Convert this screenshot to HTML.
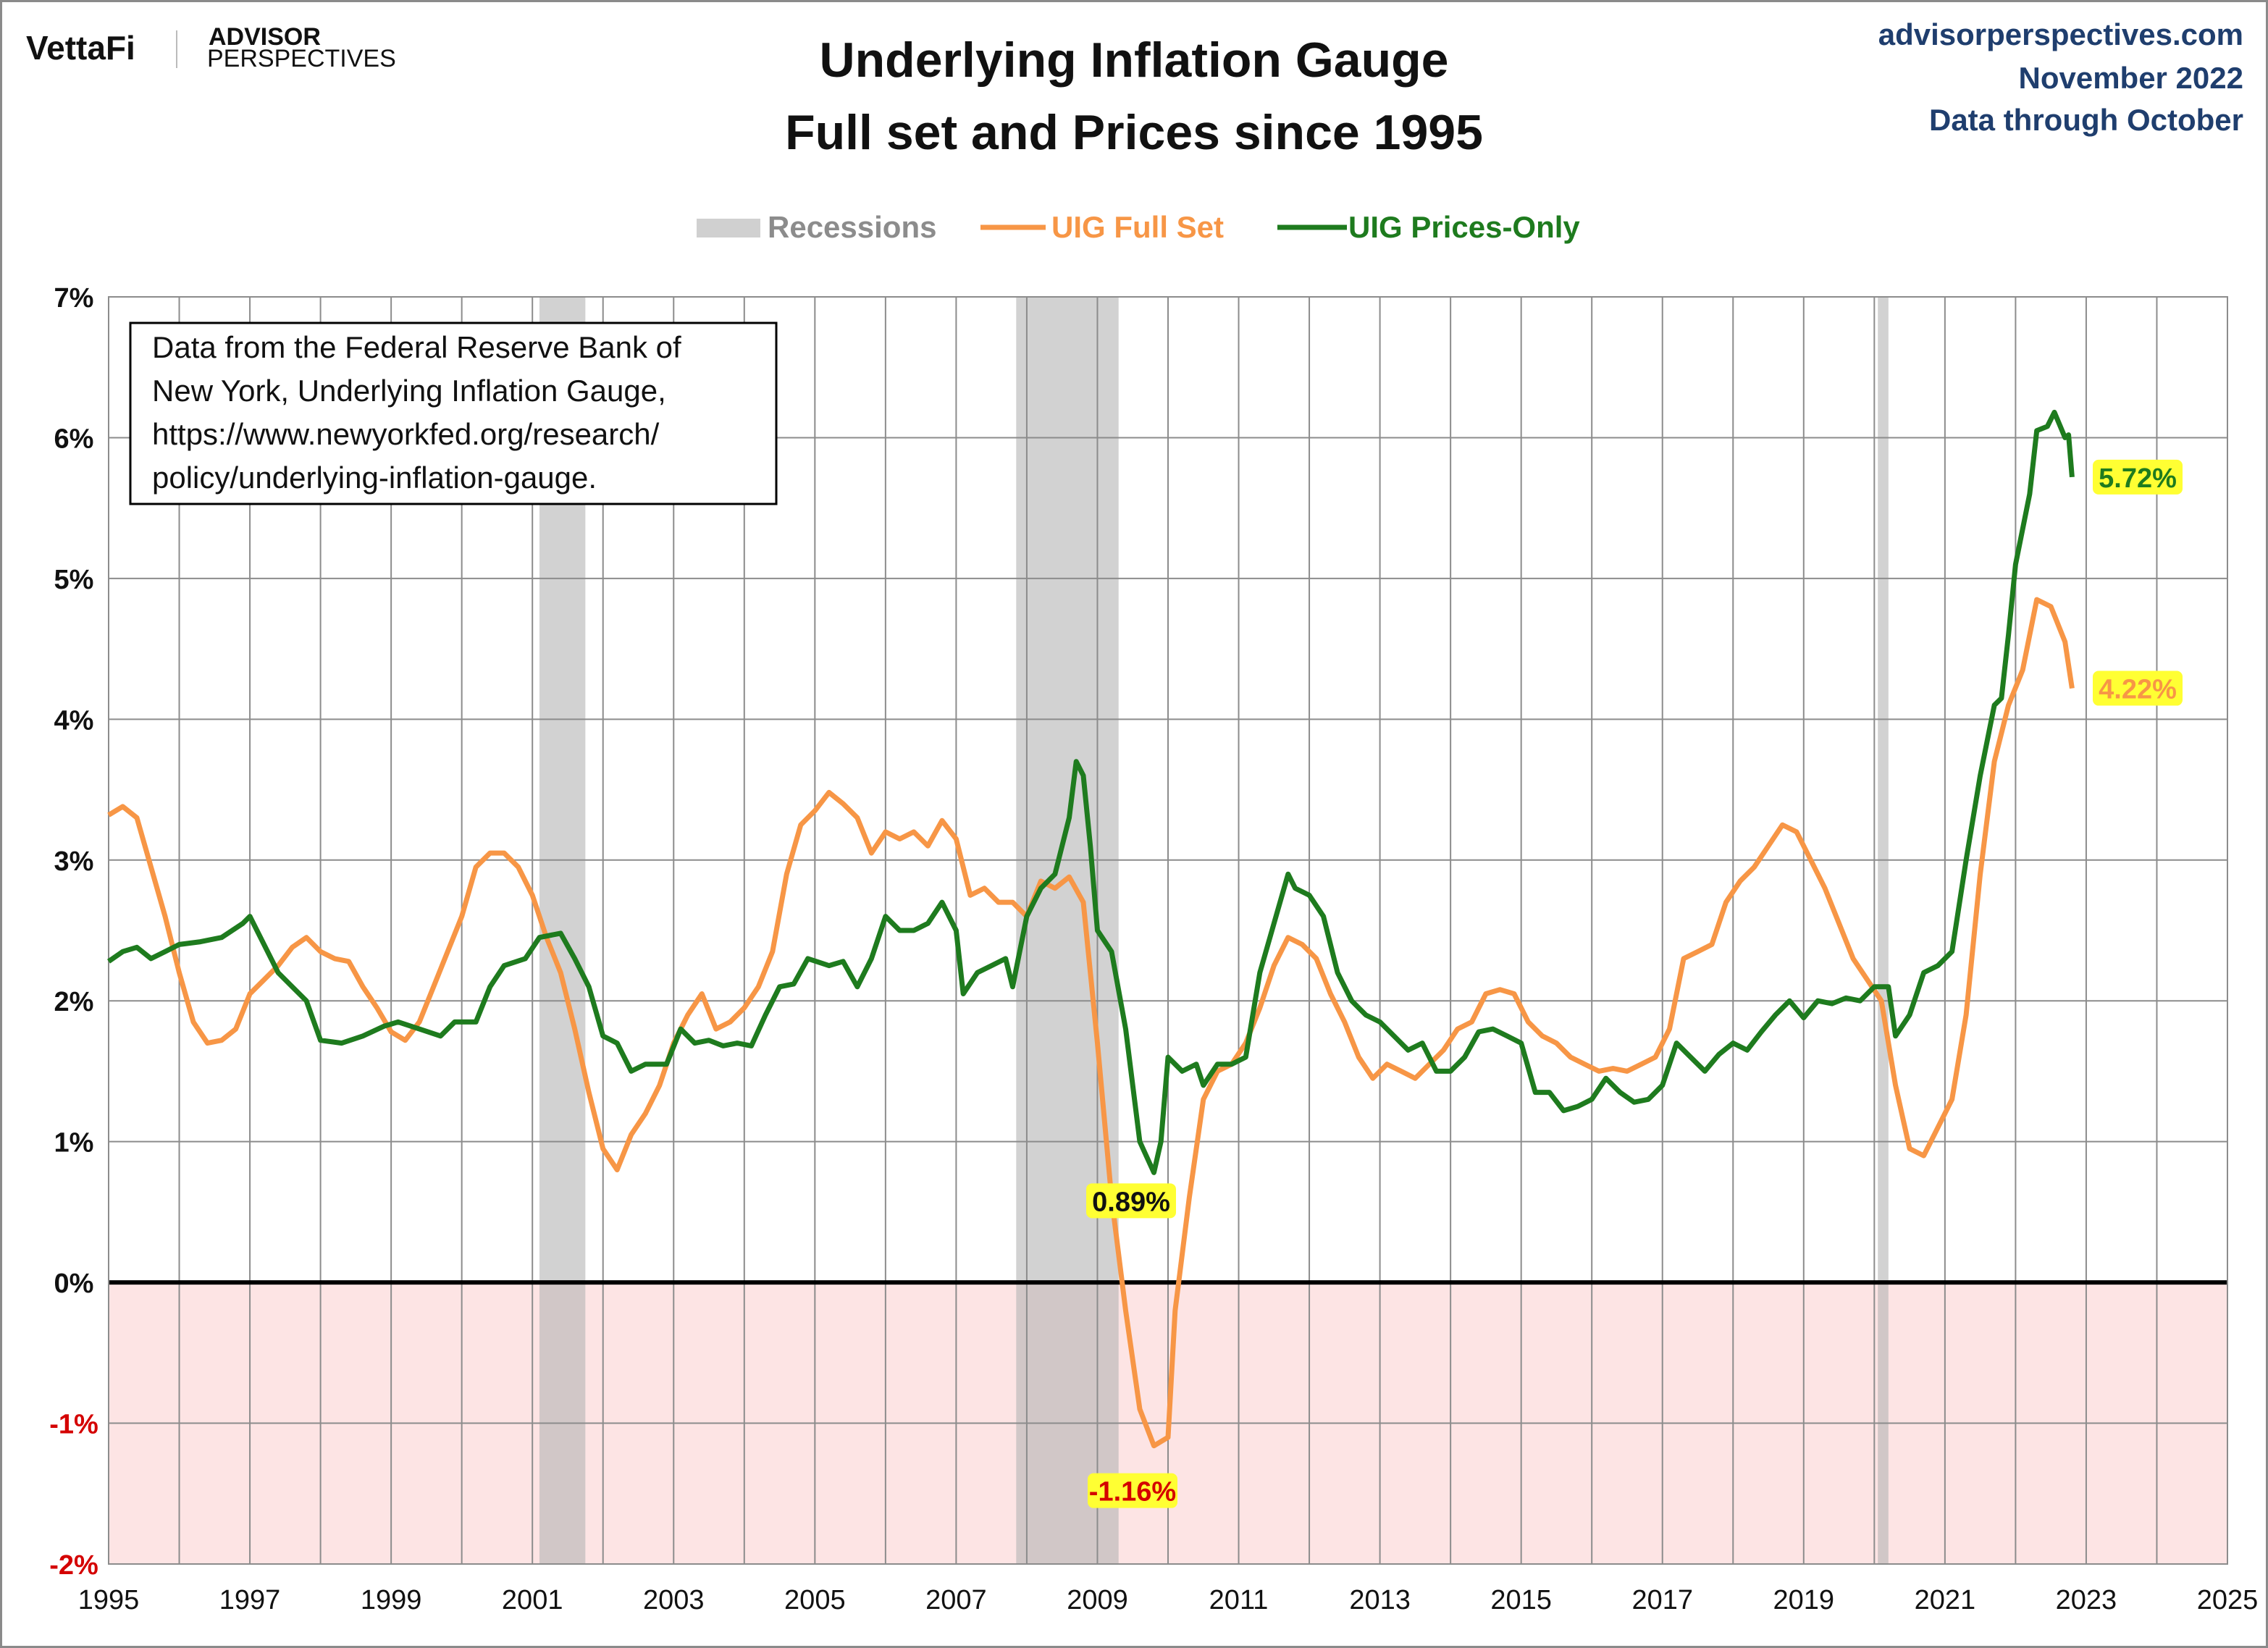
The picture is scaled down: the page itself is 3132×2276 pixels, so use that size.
<!DOCTYPE html>
<html><head><meta charset="utf-8">
<style>
html,body{margin:0;padding:0;background:#fff;}
svg{display:block;font-family:"Liberation Sans",Arial,sans-serif;}
</style></head>
<body>
<svg id="chart" width="3132" height="2276" viewBox="0 0 3132 2276" xmlns="http://www.w3.org/2000/svg">
<rect x="1.5" y="1.5" width="3129" height="2273" fill="#fff" stroke="#8a8a8a" stroke-width="3"/>
<g>
<text x="36" y="82" font-size="46" font-weight="bold" fill="#111">VettaFi</text>
<line x1="244" y1="42" x2="244" y2="94" stroke="#bbb" stroke-width="2"/>
<text x="288" y="62" font-size="34" font-weight="bold" fill="#111">ADVISOR</text>
<text x="286" y="92" font-size="34" fill="#111">PERSPECTIVES</text>
</g>
<text x="1566" y="106" font-size="68" font-weight="bold" text-anchor="middle" fill="#111">Underlying Inflation Gauge</text>
<text x="1566" y="206" font-size="68" font-weight="bold" text-anchor="middle" fill="#111">Full set and Prices since 1995</text>
<g font-size="42" font-weight="bold" fill="#1f3e6e" text-anchor="end">
<text x="3098" y="62">advisorperspectives.com</text>
<text x="3098" y="122">November 2022</text>
<text x="3098" y="180">Data through October</text>
</g>
<g>
<rect x="962" y="302" width="88" height="26" fill="#d0d0d0"/>
<text x="1060" y="328" font-size="42" font-weight="bold" fill="#8c8c8c">Recessions</text>
<line x1="1354" y1="314" x2="1444" y2="314" stroke="#f79646" stroke-width="7"/>
<text x="1452" y="328" font-size="42" font-weight="bold" fill="#f79646">UIG Full Set</text>
<line x1="1764" y1="314" x2="1860" y2="314" stroke="#1e7b1e" stroke-width="7"/>
<text x="1862" y="328" font-size="42" font-weight="bold" fill="#1e7b1e">UIG Prices-Only</text>
</g>
<g id="plot"></g>
<g>
<rect x="180" y="446" width="892" height="250" fill="#fff" stroke="#000" stroke-width="3"/>
<g font-size="42" fill="#111">
<text x="210" y="494">Data from the Federal Reserve Bank of</text>
<text x="210" y="554">New York, Underlying Inflation Gauge,</text>
<text x="210" y="614">https://www.newyorkfed.org/research/</text>
<text x="210" y="674">policy/underlying-inflation-gauge.</text>
</g>
</g>
</svg>
<script>
const fullYears=[1995.0,1995.2,1995.4,1995.6,1995.8,1996.0,1996.2,1996.4,1996.6,1996.8,1997.0,1997.2,1997.4,1997.6,1997.8,1998.0,1998.2,1998.4,1998.6,1998.8,1999.0,1999.2,1999.4,1999.6,1999.8,2000.0,2000.2,2000.4,2000.6,2000.8,2001.0,2001.2,2001.4,2001.6,2001.8,2002.0,2002.2,2002.4,2002.6,2002.8,2003.0,2003.2,2003.4,2003.6,2003.8,2004.0,2004.2,2004.4,2004.6,2004.8,2005.0,2005.2,2005.4,2005.6,2005.8,2006.0,2006.2,2006.4,2006.6,2006.8,2007.0,2007.2,2007.4,2007.6,2007.8,2008.0,2008.2,2008.4,2008.6,2008.8,2009.0,2009.2,2009.4,2009.6,2009.8,2010.0,2010.1,2010.3,2010.5,2010.7,2010.9,2011.1,2011.3,2011.5,2011.7,2011.9,2012.1,2012.3,2012.5,2012.7,2012.9,2013.1,2013.3,2013.5,2013.7,2013.9,2014.1,2014.3,2014.5,2014.7,2014.9,2015.1,2015.3,2015.5,2015.7,2015.9,2016.1,2016.3,2016.5,2016.7,2016.9,2017.1,2017.3,2017.5,2017.7,2017.9,2018.1,2018.3,2018.5,2018.7,2018.9,2019.1,2019.3,2019.5,2019.7,2019.9,2020.1,2020.3,2020.5,2020.7,2020.9,2021.1,2021.3,2021.5,2021.7,2021.9,2022.1,2022.3,2022.5,2022.7,2022.8];
const fullValues=[3.32,3.38,3.3,2.95,2.6,2.2,1.85,1.7,1.72,1.8,2.05,2.15,2.25,2.38,2.45,2.35,2.3,2.28,2.1,1.95,1.78,1.72,1.85,2.1,2.35,2.6,2.95,3.05,3.05,2.95,2.75,2.45,2.2,1.8,1.35,0.95,0.8,1.05,1.2,1.4,1.7,1.9,2.05,1.8,1.85,1.95,2.1,2.35,2.9,3.25,3.35,3.48,3.4,3.3,3.05,3.2,3.15,3.2,3.1,3.28,3.15,2.75,2.8,2.7,2.7,2.6,2.85,2.8,2.88,2.7,1.7,0.6,-0.2,-0.9,-1.16,-1.1,-0.2,0.6,1.3,1.5,1.55,1.7,1.95,2.25,2.45,2.4,2.3,2.05,1.85,1.6,1.45,1.55,1.5,1.45,1.55,1.65,1.8,1.85,2.05,2.08,2.05,1.85,1.75,1.7,1.6,1.55,1.5,1.52,1.5,1.55,1.6,1.8,2.3,2.35,2.4,2.7,2.85,2.95,3.1,3.25,3.2,3.0,2.8,2.55,2.3,2.15,2.0,1.4,0.95,0.9,1.1,1.3,1.9,2.9,3.7,4.1,4.35,4.85,4.8,4.55,4.22];
const pricesYears=[1995.0,1995.2,1995.4,1995.6,1995.8,1996.0,1996.3,1996.6,1996.9,1997.0,1997.2,1997.4,1997.6,1997.8,1998.0,1998.3,1998.6,1998.9,1999.1,1999.4,1999.7,1999.9,2000.2,2000.4,2000.6,2000.9,2001.1,2001.4,2001.6,2001.8,2002.0,2002.2,2002.4,2002.6,2002.9,2003.1,2003.3,2003.5,2003.7,2003.9,2004.1,2004.3,2004.5,2004.7,2004.9,2005.2,2005.4,2005.6,2005.8,2006.0,2006.2,2006.4,2006.6,2006.8,2007.0,2007.1,2007.3,2007.5,2007.7,2007.8,2008.0,2008.2,2008.4,2008.6,2008.7,2008.8,2008.9,2009.0,2009.2,2009.4,2009.6,2009.8,2009.9,2010.0,2010.2,2010.4,2010.5,2010.7,2010.9,2011.1,2011.3,2011.5,2011.7,2011.8,2012.0,2012.2,2012.4,2012.6,2012.8,2013.0,2013.2,2013.4,2013.6,2013.8,2014.0,2014.2,2014.4,2014.6,2014.8,2015.0,2015.2,2015.4,2015.6,2015.8,2016.0,2016.2,2016.4,2016.6,2016.8,2017.0,2017.2,2017.4,2017.6,2017.8,2018.0,2018.2,2018.4,2018.6,2018.8,2019.0,2019.2,2019.4,2019.6,2019.8,2020.0,2020.2,2020.3,2020.5,2020.7,2020.9,2021.1,2021.3,2021.5,2021.7,2021.8,2021.9,2022.0,2022.2,2022.3,2022.45,2022.55,2022.7,2022.75,2022.8];
const pricesValues=[2.28,2.35,2.38,2.3,2.35,2.4,2.42,2.45,2.55,2.6,2.4,2.2,2.1,2.0,1.72,1.7,1.75,1.82,1.85,1.8,1.75,1.85,1.85,2.1,2.25,2.3,2.45,2.48,2.3,2.1,1.75,1.7,1.5,1.55,1.55,1.8,1.7,1.72,1.68,1.7,1.68,1.9,2.1,2.12,2.3,2.25,2.28,2.1,2.3,2.6,2.5,2.5,2.55,2.7,2.5,2.05,2.2,2.25,2.3,2.1,2.6,2.8,2.9,3.3,3.7,3.6,3.1,2.5,2.35,1.8,1.0,0.78,1.0,1.6,1.5,1.55,1.4,1.55,1.55,1.6,2.2,2.55,2.9,2.8,2.75,2.6,2.2,2.0,1.9,1.85,1.75,1.65,1.7,1.5,1.5,1.6,1.78,1.8,1.75,1.7,1.35,1.35,1.22,1.25,1.3,1.45,1.35,1.28,1.3,1.4,1.7,1.6,1.5,1.62,1.7,1.65,1.78,1.9,2.0,1.88,2.0,1.98,2.02,2.0,2.1,2.1,1.75,1.9,2.2,2.25,2.35,3.0,3.6,4.1,4.15,4.6,5.1,5.6,6.05,6.08,6.18,6.0,6.02,5.72];
const recessionStarts=[2001.1,2007.85,2020.05];
const recessionEnds=[2001.75,2009.3,2020.2];
const yTicks=[-2,-1,0,1,2,3,4,5,6,7];
const xTickYears=[1995,1997,1999,2001,2003,2005,2007,2009,2011,2013,2015,2017,2019,2021,2023,2025];
const calloutLabels=['5.72%','4.22%','0.89%','-1.16%'];

const NS='http://www.w3.org/2000/svg';
const L=150,R=3076,T=410,B=2160,X0=1995,X1=2025,Y0=-2,Y1=7;
const xs=v=>L+(v-X0)*(R-L)/(X1-X0);
const ys=v=>B-(v-Y0)*(B-T)/(Y1-Y0);
const plot=document.getElementById('plot');
function mk(tag,attrs,parent){const e=document.createElementNS(NS,tag);for(const k in attrs)e.setAttribute(k,attrs[k]);(parent||plot).appendChild(e);return e;}

let e=mk('rect',{x:L,y:ys(0),width:R-L,height:B-ys(0),fill:'#fde4e4'});


for(let i=0;i<recessionStarts.length;i++){
  e=mk('rect',{x:xs(recessionStarts[i]),y:T,width:xs(recessionEnds[i])-xs(recessionStarts[i]),height:B-T,fill:'#b4b4b4','fill-opacity':0.6});
  
  
}
for(let yr=X0;yr<=X1;yr++){
  e=mk('line',{x1:xs(yr),x2:xs(yr),y1:T,y2:B,stroke:'#8c8c8c','stroke-width':2});
  
  
}
yTicks.forEach(v=>{
  e=mk('line',{x1:L,x2:R,y1:ys(v),y2:ys(v),stroke:v===0?'#000':'#8c8c8c','stroke-width':v===0?6:2});
  
  
  e=mk('text',{x:L-48,y:ys(v)+14,'font-size':38,'font-weight':'bold','text-anchor':'middle',fill:v<0?'#d40000':'#111'});
  e.textContent=v+'%';
  
  
});
e=mk('rect',{x:L,y:T,width:R-L,height:B-T,fill:'none',stroke:'#8c8c8c','stroke-width':2});


xTickYears.forEach(yr=>{
  e=mk('text',{x:xs(yr),y:B+62,'font-size':38,'text-anchor':'middle',fill:'#111'});
  e.textContent=yr;
  
  
});
function line(xa,ya,color,name){
  const d=xa.map((x,i)=>(i?'L':'M')+xs(x).toFixed(1)+','+ys(ya[i]).toFixed(1)).join(' ');
  const p=mk('path',{d:d,fill:'none',stroke:color,'stroke-width':7,'stroke-linejoin':'round'});
  
  
}
line(fullYears,fullValues,'#f79646','uig-full-set-line');
line(pricesYears,pricesValues,'#1e7b1e','uig-prices-only-line');

function callout(x,y,txt,color,name){
  const r=mk('rect',{x:x-62,y:y-24,width:124,height:48,fill:'#ffff33',rx:8});
  
  
  const t=mk('text',{x:x,y:y+14,'font-size':38,'font-weight':'bold','text-anchor':'middle',fill:color});
  t.textContent=txt;
  
  
}
const lastP=pricesValues[pricesValues.length-1], lastF=fullValues[fullValues.length-1];
const minF=Math.min(...fullValues);
callout(2952,ys(lastP),calloutLabels[0],'#1e7b1e','callout-prices-last');
callout(2952,ys(lastF),calloutLabels[1],'#f79646','callout-full-last');
callout(1562,ys(0.58),calloutLabels[2],'#111','callout-prices-min');
callout(1564,ys(minF)+62,calloutLabels[3],'#d40000','callout-full-min');
</script>
</body></html>
